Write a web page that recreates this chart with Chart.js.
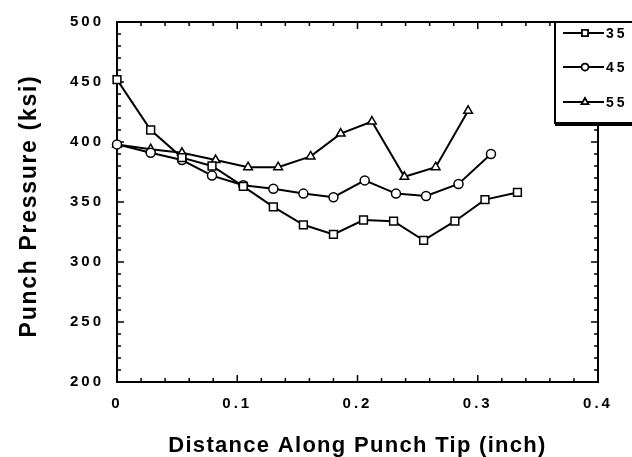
<!DOCTYPE html>
<html>
<head>
<meta charset="utf-8">
<title>Punch Pressure</title>
<script src="https://cdn.jsdelivr.net/npm/chart.js@4.4.1/dist/chart.umd.min.js"></script>
<style>
  body { margin: 0; background: #fff; }
  canvas { display: block; }
</style>
</head>
<body>
<canvas id="punchChart" width="632" height="457"></canvas>
<script>
// Chart data
const seriesNames = ['35', '45', '55'];

const dist35 = [0, 0.028, 0.054, 0.079, 0.105, 0.130, 0.155, 0.180, 0.205, 0.230, 0.255, 0.281, 0.306, 0.333];
const press35 = [452, 410, 387, 380, 363, 346, 331, 323, 335, 334, 318, 334, 352, 358];

const dist45 = [0, 0.028, 0.054, 0.079, 0.105, 0.130, 0.155, 0.180, 0.206, 0.232, 0.257, 0.284, 0.311];
const press45 = [398, 391, 385, 372, 364, 361, 357, 354, 368, 357, 355, 365, 390];

const dist55 = [0, 0.028, 0.054, 0.082, 0.109, 0.134, 0.161, 0.186, 0.212, 0.239, 0.265, 0.292];
const press55 = [398, 394, 391, 385, 379, 379, 388, 407, 417, 371, 379, 426];

const xTickLabels = ['0', '0.1', '0.2', '0.3', '0.4'];
const yTickLabels = ['200', '250', '300', '350', '400', '450', '500'];

const markerStyles = ['rect', 'circle', 'triangle'];
const markerRadius = [5.5, 4.5, 5];

function toPoints(xs, ys) {
    return xs.map((x, i) => ({ x: x, y: ys[i] }));
}

function findLabel(labels, value) {
    return labels.find(t => Math.abs(parseFloat(t) - value) < 1e-6);
}

// Frame with inward major/minor ticks on all four sides
const framePlugin = {
    id: 'frame',
    beforeDraw(chart) {
        chart.ctx.letterSpacing = '3px';
    },
    beforeDatasetsDraw(chart) {
        const ctx = chart.ctx;
        const ca = chart.chartArea;
        const xs = chart.scales.x;
        const ys = chart.scales.y;
        ctx.letterSpacing = '0px';
        ctx.save();
        ctx.strokeStyle = '#000';
        ctx.lineWidth = 2;
        ctx.strokeRect(ca.left, ca.top, ca.right - ca.left, ca.bottom - ca.top);
        ctx.lineWidth = 1.5;
        ctx.beginPath();
        xs.ticks.forEach(t => {
            const px = xs.getPixelForValue(t.value);
            const len = findLabel(xTickLabels, t.value) ? 7 : 4;
            ctx.moveTo(px, ca.bottom); ctx.lineTo(px, ca.bottom - len);
            ctx.moveTo(px, ca.top); ctx.lineTo(px, ca.top + len);
        });
        ys.ticks.forEach(t => {
            const py = ys.getPixelForValue(t.value);
            const len = findLabel(yTickLabels, t.value) ? 7 : 4;
            ctx.moveTo(ca.left, py); ctx.lineTo(ca.left + len, py);
            ctx.moveTo(ca.right, py); ctx.lineTo(ca.right - len, py);
        });
        ctx.stroke();
        ctx.restore();
    },
    afterDraw(chart) {
        const ctx = chart.ctx;
        const ca = chart.chartArea;
        ctx.save();
        ctx.fillStyle = '#000';

        // axis titles
        ctx.font = 'bold 22px "Liberation Sans", Arial, sans-serif';
        ctx.letterSpacing = '1.3px';
        ctx.textAlign = 'center';
        ctx.textBaseline = 'alphabetic';
        ctx.fillText('Distance Along Punch Tip (inch)', (ca.left + ca.right) / 2, 452);

        ctx.save();
        ctx.translate(36, 206);
        ctx.rotate(-Math.PI / 2);
        ctx.font = 'bold 23px "Liberation Sans", Arial, sans-serif';
        ctx.letterSpacing = '1.7px';
        ctx.fillText('Punch Pressure (ksi)', 0, 0);
        ctx.restore();

        // legend box
        const bx = 555, by = ca.top, bw = 90, bh = 101;
        ctx.fillStyle = '#fff';
        ctx.fillRect(bx, by, bw, bh);
        ctx.strokeStyle = '#000';
        ctx.lineWidth = 2;
        ctx.strokeRect(bx, by, bw, bh);
        ctx.fillStyle = '#000';
        ctx.fillRect(bx, by + bh - 1, bw, 4);

        const rows = [33, 67, 102];
        ctx.font = 'bold 14px "Liberation Sans", Arial, sans-serif';
        ctx.letterSpacing = '3px';
        ctx.textAlign = 'left';
        ctx.textBaseline = 'middle';
        chart.data.datasets.forEach((ds, i) => {
            const y = rows[i];
            ctx.lineWidth = 2;
            ctx.strokeStyle = '#000';
            ctx.beginPath();
            ctx.moveTo(563, y); ctx.lineTo(604, y);
            ctx.stroke();
            Chart.helpers.drawPoint(ctx, {
                pointStyle: ds.pointStyle,
                radius: ds.pointRadius * 0.75,
                borderWidth: 1.5
            }, 585, y);
            ctx.fillStyle = '#fff';
            ctx.strokeStyle = '#000';
            ctx.lineWidth = 1.5;
            ctx.fill();
            ctx.stroke();
            ctx.fillStyle = '#000';
            ctx.fillText(ds.label, 606, y + 1);
        });
        ctx.restore();
    }
};

const pointSets = [toPoints(dist35, press35), toPoints(dist45, press45), toPoints(dist55, press55)];

const datasets = pointSets.map((pts, i) => ({
    label: seriesNames[i],
    data: pts,
    showLine: true,
    borderColor: '#000',
    borderWidth: 2,
    backgroundColor: '#fff',
    pointStyle: markerStyles[i],
    pointRadius: markerRadius[i],
    pointBorderWidth: 1.5,
    pointBorderColor: '#000',
    pointBackgroundColor: '#fff',
    clip: false
}));

new Chart(document.getElementById('punchChart').getContext('2d'), {
    type: 'scatter',
    data: { datasets: datasets },
    options: {
        responsive: false,
        animation: false,
        layout: { padding: { top: 17, right: 34, left: 0, bottom: 0 } },
        plugins: {
            legend: { display: false },
            tooltip: { enabled: false }
        },
        scales: {
            x: {
                type: 'linear',
                min: 0,
                max: 0.4,
                grid: { display: false, drawTicks: false },
                border: { display: false },
                ticks: {
                    stepSize: 0.02,
                    autoSkip: false,
                    maxRotation: 0,
                    padding: 13,
                    color: '#000',
                    font: { family: '"Liberation Sans", Arial, sans-serif', size: 15, weight: 'bold' },
                    callback: v => findLabel(xTickLabels, v) || ''
                },
                afterFit: scale => { scale.height = 75; }
            },
            y: {
                type: 'linear',
                min: 200,
                max: 500,
                grid: { display: false, drawTicks: false },
                border: { display: false },
                ticks: {
                    stepSize: 10,
                    autoSkip: false,
                    padding: 13,
                    color: '#000',
                    font: { family: '"Liberation Sans", Arial, sans-serif', size: 15, weight: 'bold' },
                    callback: v => findLabel(yTickLabels, v) || ''
                },
                afterFit: scale => { scale.width = 117; }
            }
        }
    },
    plugins: [framePlugin]
});
</script>
</body>
</html>
